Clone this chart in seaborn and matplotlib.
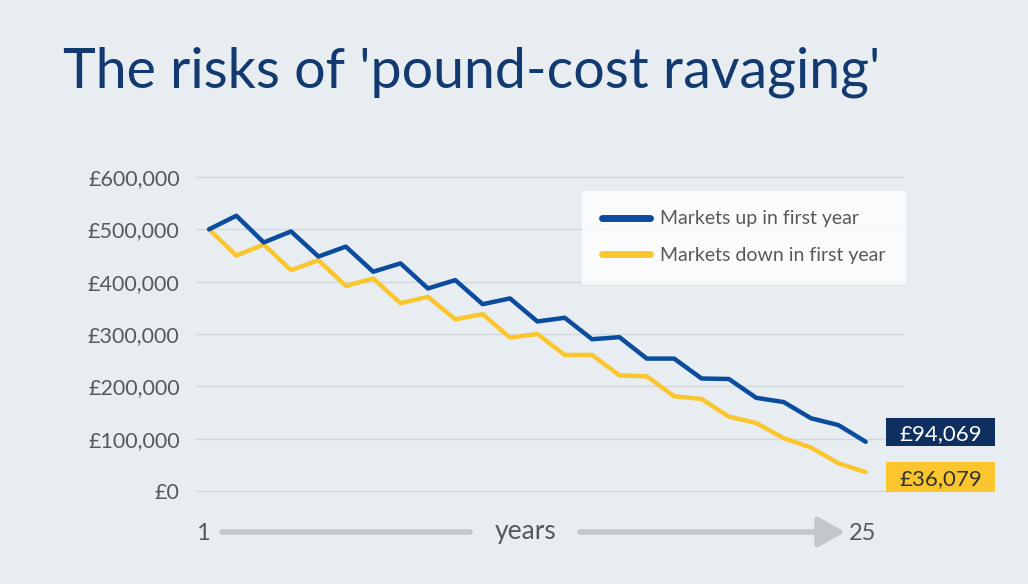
import numpy as np
import pandas as pd
import seaborn as sns
import matplotlib.pyplot as plt
from matplotlib.patches import Rectangle
from matplotlib.lines import Line2D

# pot value each year
years = list(range(1, 26))
markets_up = [500000, 526000, 475000, 496000, 448000, 467000, 419000, 435000, 387000, 403000,
              357000, 368000, 324000, 331000, 290000, 294000, 253000, 253000, 215000, 214000,
              178000, 170000, 139000, 126000, 94069]
markets_down = [500000, 450000, 471000, 422000, 441000, 392000, 406000, 359000, 371000, 328000,
                338000, 293000, 300000, 260000, 260000, 221000, 219000, 181000, 176000, 142000,
                130000, 101000, 83000, 53000, 36079]
series_names = ["Markets up in first year", "Markets down in first year"]
end_labels = ["£94,069", "£36,079"]
y_ticks = [0, 100000, 200000, 300000, 400000, 500000, 600000]

bg = "#e7edf1"
blue = "#0b4c9e"
yellow = "#fbc62d"
navy = "#0e2f5f"
grey_text = "#555a5e"

df = pd.DataFrame({"year": years * 2,
                   "value": markets_up + markets_down,
                   "series": [series_names[0]] * 25 + [series_names[1]] * 25})

sns.set_style("white")
plt.rcParams['font.family'] = ['Lato', 'DejaVu Sans']

W, H = 1028, 584
fig = plt.figure(figsize=(W / 100, H / 100), dpi=100, facecolor=bg)

# axes placed in pixel terms
pad = 5
ax = fig.add_axes([195 / W, (H - 491 - pad) / H, (905 - 195) / W, (491 - 177 + 2 * pad) / H])
ax.set_facecolor(bg)
px_per_unit = (491 - 177) / 600000
ax.set_ylim(-pad / px_per_unit, 600000 + pad / px_per_unit)
step = (865.7 - 209) / 24
ax.set_xlim(1 - (209 - 195) / step, 25 + (905 - 865.7) / step)

for t in y_ticks:
    ax.axhline(t, color="#d3d8dc", lw=1, zorder=0)

sns.lineplot(data=df, x="year", y="value", hue="series", hue_order=[series_names[1], series_names[0]],
             palette=[yellow, blue], lw=3.2, ax=ax, legend=False)

ax.set_yticks(y_ticks)
ax.set_yticklabels(["£{:,}".format(t) for t in y_ticks], fontsize=15.5, color=grey_text)
ax.tick_params(axis="y", length=0, pad=11)
ax.set_xticks([])
ax.set_xlabel("")
ax.set_ylabel("")
sns.despine(ax=ax, left=True, bottom=True)

# legend
handles = [Line2D([], [], color=blue, lw=5, solid_capstyle="round"),
           Line2D([], [], color=yellow, lw=5, solid_capstyle="round")]
leg = fig.legend(handles, series_names, loc="upper right", bbox_to_anchor=(905 / W, 1 - 191 / H),
                 frameon=True, fancybox=False, fontsize=14, handlelength=2.5, handletextpad=0.5,
                 labelspacing=1.0, borderpad=1.0, borderaxespad=0)
leg.get_frame().set_facecolor("white")
leg.get_frame().set_edgecolor("white")
for txt in leg.get_texts():
    txt.set_color(grey_text)

# end value boxes
for (y0, y1), fc, tc, lab in [((418, 446), navy, "white", end_labels[0]),
                              ((462, 492), yellow, "#333333", end_labels[1])]:
    fig.add_artist(Rectangle((886 / W, 1 - y1 / H), (995 - 886) / W, (y1 - y0) / H,
                             transform=fig.transFigure, facecolor=fc, edgecolor="none"))
    fig.text(940.5 / W, 1 - (y0 + y1) / 2 / H, lab, color=tc, fontsize=16,
             ha="center", va="center_baseline")

# title
fig.text(63 / W, 1 - 88 / H, "The risks of 'pound-cost ravaging'", fontsize=40, color="#133a70",
         ha="left", va="baseline")

# years axis along the bottom
arrow_grey = "#c4c7ca"
fig.text(203 / W, 1 - 533 / H, "1", fontsize=17, color=grey_text, ha="center", va="center")
fig.add_artist(Line2D([222 / W, 470 / W], [1 - 532 / H] * 2, transform=fig.transFigure,
                      color=arrow_grey, lw=4))
fig.text(526 / W, 1 - 531 / H, "years", fontsize=19, color=grey_text, ha="center", va="center")
ax.annotate("", xy=(845, H - 532), xytext=(580, H - 532), xycoords="figure pixels",
            textcoords="figure pixels",
            arrowprops=dict(arrowstyle="-|>,head_length=1.6,head_width=0.9", lw=4,
                            color=arrow_grey, shrinkA=0, shrinkB=0))
fig.text(863 / W, 1 - 533 / H, "25", fontsize=17, color=grey_text, ha="center", va="center")

plt.savefig("out.png", dpi=100, facecolor=bg)
